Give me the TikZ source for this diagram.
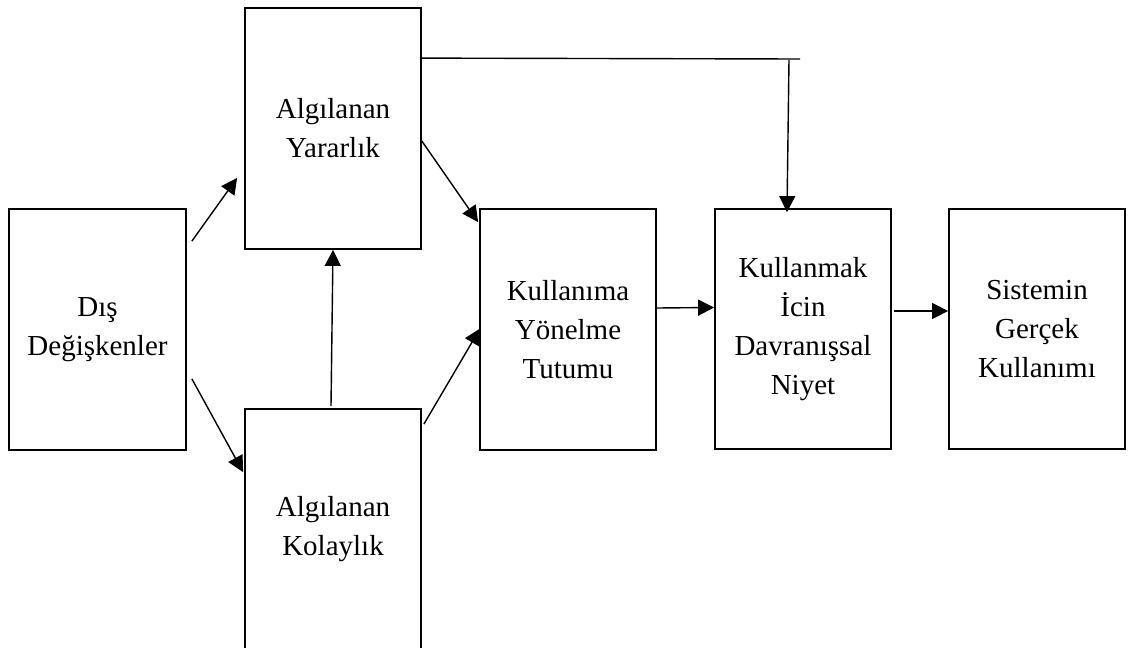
\documentclass[tikz,border=0pt]{standalone}
\usepackage{fontspec}
\setmainfont{Liberation Serif}
\usetikzlibrary{arrows.meta}
\begin{document}
\begin{tikzpicture}[x=1pt,y=-1pt,
  box/.style={draw=black,line width=1.8pt,rectangle,align=center,inner sep=0pt,
    minimum width=176pt,minimum height=241pt,
    font=\fontsize{29}{39}\selectfont},
  arr/.style={line width=1.4pt,-{Triangle[length=16pt,width=16pt]}},
  ln/.style={line width=1.4pt}]
\useasboundingbox (0,0) rectangle (1128,648);
\clip (0,0) rectangle (1128,648);
\node[box,minimum width=177pt] (dis) at (97.5,329.5) {Dış\\Değişkenler};
\node[box] (yar) at (333,128.5) {Algılanan\\Yararlık};
\node[box,minimum height=240pt] (kol) at (333,529) {Algılanan\\Kolaylık};
\node[box] (tut) at (568,329.5) {Kullanıma\\Yönelme\\Tutumu};
\node[box,minimum height=240pt] (niy) at (803,329) {Kullanmak\\İcin\\Davranışsal\\Niyet};
\node[box,minimum height=240pt] (sis) at (1037,329) {Sistemin\\Gerçek\\Kullanımı};
% arrows
\draw[arr] ([shift={(5,33)}]dis.north east) -- ([shift={(-7,-72)}]yar.south west);
\draw[arr] ([shift={(5,-72)}]dis.south east) -- ([shift={(-1,64)}]kol.north west);
\draw[arr] ([shift={(-2,-2)}]kol.north) -- (yar.south);
\draw[arr] ([shift={(2,16)}]kol.north east) -- ([shift={(1,-1)}]tut.west);
\draw[arr] ([shift={(0,134)}]yar.north east) -- ([shift={(-1,14)}]tut.north west);
\draw[arr] ([shift={(0,-21.5)}]tut.east) -- ([shift={(0,-21.5)}]niy.west);
\draw[arr] ([shift={(2,-18)}]niy.east) -- ([shift={(0,-18)}]sis.west);
% feedback line
\coordinate (fbend) at (800,59);
\coordinate (fbtop) at (789,60);
\draw[ln] ([shift={(-2,51)}]yar.north east) -- (fbend);
\draw[arr] (fbtop) -- ([shift={(-16,4)}]niy.north);
\end{tikzpicture}
\end{document}
